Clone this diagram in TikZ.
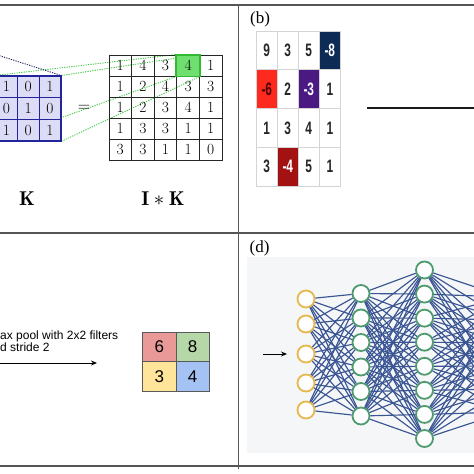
\documentclass[tikz,border=0pt]{standalone}
\usepackage{fontspec}
\newfontfamily\arialf{Liberation Sans}
\newfontfamily\narrowf[FakeStretch=0.66]{Liberation Sans Bold}
\newfontfamily\timesf{Liberation Serif}
\usetikzlibrary{arrows.meta}
\pgfdeclarelayer{bottom}
\pgfdeclarelayer{background}
\pgfsetlayers{bottom,background,main}
\definecolor{frameg}{HTML}{555555}
\definecolor{kfill}{HTML}{DCDCF6}
\definecolor{kline}{HTML}{23239A}
\definecolor{gline}{HTML}{44C844}
\definecolor{gcell}{HTML}{6FE06F}
\definecolor{gcellb}{HTML}{33B833}
\definecolor{navyc}{HTML}{0D2B55}
\definecolor{redc}{HTML}{FF2A1E}
\definecolor{purpc}{HTML}{4A1A82}
\definecolor{dredc}{HTML}{A31212}
\definecolor{gridb}{HTML}{D4D4D4}
\definecolor{pred}{HTML}{EA9999}
\definecolor{pgreen}{HTML}{B6D7A8}
\definecolor{pyellow}{HTML}{FFE599}
\definecolor{pblue}{HTML}{A4C2F4}
\definecolor{nnbg}{HTML}{F4F6F7}
\definecolor{edgec}{HTML}{3A5594}
\definecolor{inc}{HTML}{E6B84E}
\definecolor{hidc}{HTML}{4E9C6E}
\definecolor{iqline}{HTML}{22225E}
\tikzset{
 frame/.style={draw=frameg, line width=1.4pt},
 ocell/.style={draw=black!85, line width=1pt, minimum width=22.6pt, minimum height=21pt, inner sep=0pt, font=\fontsize{15.5}{15.5}\selectfont},
 oc14/.style={fill=gcell, draw=gcellb},
 kcell/.style={draw=kline, fill=kfill, line width=1pt, minimum width=21.8pt, minimum height=21.6pt, inner sep=0pt, font=\fontsize{15.5}{15.5}\selectfont},
 gdot/.style={draw=gline, line width=0.9pt, dash pattern=on 1.2pt off 1.2pt},
 bdot/.style={draw=iqline, line width=0.9pt, dash pattern=on 1.2pt off 1.2pt},
 bcell/.style={draw=gridb, line width=0.8pt, minimum width=21pt, minimum height=38.75pt, inner sep=0pt, font=\narrowf\fontsize{18}{18}\selectfont, text=black!85},
 bc14/.style={fill=navyc, text=white},
 bc21/.style={fill=redc, text=black!70!red},
 bc23/.style={fill=purpc, text=white},
 bc42/.style={fill=dredc, text=white},
 pcell/.style={draw=black!65, line width=0.9pt, minimum width=33.3pt, minimum height=29.5pt, inner sep=0pt, font=\arialf\fontsize{17}{17}\selectfont},
 neuron/.style={circle, minimum size=17pt, inner sep=0pt, line width=1.8pt, fill=white},
 inn/.style={neuron, draw=inc},
 hid/.style={neuron, draw=hidc},
 wire/.style={draw=edgec, line width=1.15pt},
 plabel/.style={font=\timesf\fontsize{17}{17}\selectfont, inner sep=0pt},
 blabel/.style={font=\fontsize{20}{20}\selectfont, inner sep=0pt},
 arr/.style={draw=black, line width=1pt, -{Stealth[length=6pt,width=5pt]}},
}
\begin{document}
\begin{tikzpicture}[x=1pt,y=-1pt]
\useasboundingbox (0,0) rectangle (474,474);
\clip (0,0) rectangle (474,474);
\begin{pgfonlayer}{bottom}
\fill[white] (-5,-5) rectangle (480,480);
\end{pgfonlayer}

% ---------- panel (a)
\foreach \rowv [count=\r] in {{1,4,3,4,1},{1,2,4,3,3},{1,2,3,4,1},{1,3,3,1,1},{3,3,1,1,0}}{
  \foreach \v [count=\c] in \rowv {
    \node[ocell, oc\r\c/.try] (o\r\c) at ({109+22.6*(\c-0.5)},{55+21*(\r-0.5)}) {\v};
  }
}
\draw[gcellb, line width=1.8pt] (o14.north west) rectangle (o14.south east);
\foreach \rowv [count=\r] in {{1,0,1},{0,1,0},{1,0,1}}{
  \foreach \v [count=\c] in \rowv {
    \node[kcell] (k\r\c) at ({-4.5+21.8*(\c-0.5)},{76+21.6*(\r-0.5)}) {\v};
  }
}
\draw[kline, line width=2pt] (k11.north west) rectangle (k33.south east);
\coordinate (iq) at (-12,52);
\begin{pgfonlayer}{background}
\draw[gdot] (k11.north west) -- (o14.north west);
\draw[gdot] (k13.north east) -- (o14.north east);
\draw[gdot] (k31.south west) -- (o14.south west);
\draw[gdot] (k33.south east) -- (o14.south east);
\draw[bdot] (iq) -- (k13.north east);
\end{pgfonlayer}
\node[blabel, font=\fontsize{17}{17}\selectfont] (eq) at (84,108) {$=$};
\node[blabel] (lk) at (27,199) {$\mathbf{K}$};
\node[blabel] (lik) at (163,199) {$\mathbf{I}*\mathbf{K}$};

% ---------- panel (b)
\node[plabel] (pb) at (260,19.5) {(b)};
\foreach \rowv [count=\r] in {{9,3,5,-8},{-6,2,-3,1},{1,3,4,1},{3,-4,5,1}}{
  \foreach \v [count=\c] in \rowv {
    \node[bcell, bc\r\c/.try] (b\r\c) at ({256.3+21*(\c-0.5)},{31+38.75*(\r-0.5)}) {\v};
  }
}
\coordinate (hl1) at (367,108);
\coordinate (hl2) at (480,108);
\draw[black!90, line width=2pt] (hl1) -- (hl2);

% ---------- panel (c)
\node[anchor=west, font=\arialf\fontsize{12}{12}\selectfont, align=left, inner sep=0pt] (mp) at (0,341.5) {ax pool with 2x2 filters\\d stride 2};
\coordinate (ca) at (-5,363);
\coordinate (cb) at (97,363);
\draw[arr] (ca) -- (cb);
\node[pcell, fill=pred] (p11) at (159.3,346.7) {6};
\node[pcell, fill=pgreen] (p12) at (192.6,346.7) {8};
\node[pcell, fill=pyellow] (p21) at (159.3,376.2) {3};
\node[pcell, fill=pblue] (p22) at (192.6,376.2) {4};

% ---------- panel (d)
\fill[nnbg] (247,257) rectangle (480,453);
\node[plabel] (pd) at (259.5,248) {(d)};
\coordinate (da) at (263,354);
\coordinate (db) at (287,354);
\draw[arr] (da) -- (db);
\foreach \yy [count=\i] in {299,324,354,383,410}{
  \node[inn] (a\i) at (306,\yy) {};
}
\foreach \i in {1,...,6}{
  \node[hid] (h\i) at (361,{293.5+24.5*(\i-1)}) {};
}
\foreach \i in {1,...,8}{
  \node[hid] (g\i) at (424.5,{270+24.07*(\i-1)}) {};
}
\foreach \i in {1,...,6}{
  \node[hid] (f\i) at (505,{297+23*(\i-1)}) {};
}
\foreach \i in {1,...,5}{\foreach \j in {1,...,6}{\draw[wire] (a\i) -- (h\j);}}
\foreach \i in {1,...,6}{\foreach \j in {1,...,8}{\draw[wire] (h\i) -- (g\j);}}
\foreach \i in {1,...,8}{\foreach \j in {1,...,6}{\draw[wire] (g\i) -- (f\j);}}

% ---------- frames
\coordinate (t0) at (-5,5);
\coordinate (t1) at (480,5);
\coordinate (m0) at (-5,233);
\coordinate (m1) at (480,233);
\coordinate (u0) at (-5,466);
\coordinate (u1) at (480,466);
\coordinate (v0) at (238.5,5);
\coordinate (v1) at (238.5,469);
\draw[frame] (t0) -- (t1);
\draw[frame] (m0) -- (m1);
\draw[frame] (u0) -- (u1);
\draw[frame] (v0) -- (v1);
\end{tikzpicture}
\end{document}
